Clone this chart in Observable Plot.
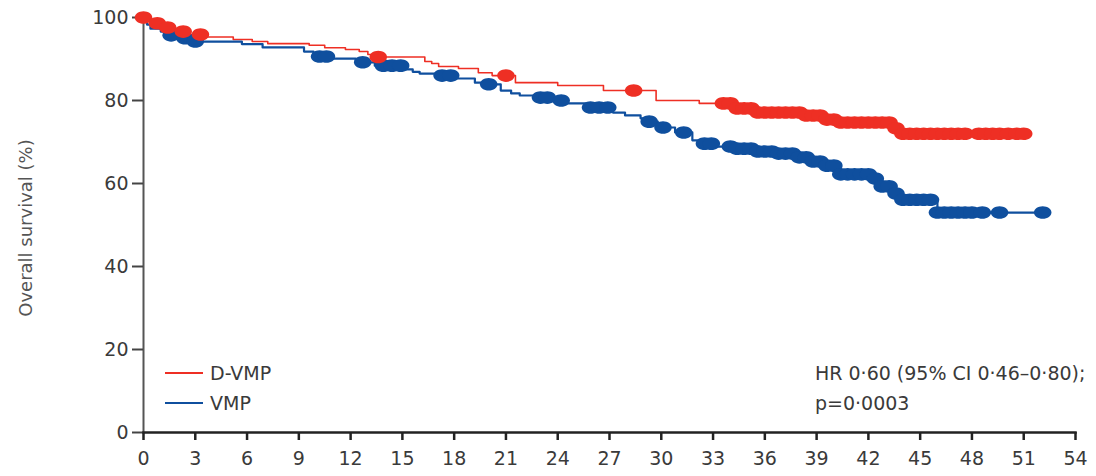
<!DOCTYPE html>
<html>
<head>
<meta charset="utf-8">
<script src="https://cdn.jsdelivr.net/npm/d3@7"></script>
<script src="https://cdn.jsdelivr.net/npm/@observablehq/plot@0.6"></script>
<style>
  html, body { margin: 0; padding: 0; background: #fff; }
  #wrap { position: relative; width: 1096px; height: 476px; font-family: "DejaVu Sans", sans-serif; color: #3a3a3a; }
  .lbl { position: absolute; font-size: 19px; line-height: 22px; white-space: nowrap; }
  .sw { position: absolute; width: 38px; height: 0; border-top: 2px solid; }
</style>
</head>
<body>
<div id="wrap"></div>
<script>
// D-VMP Kaplan-Meier steps (months, % surviving)
const dvmpTime = [0, 0.4, 1.0, 1.85, 2.7, 3.6, 5.2, 6.3, 7.2, 9.6, 10.5, 11.7, 12.5, 13.0, 13.3, 16.3, 16.7, 17.1, 18.25, 19.4, 20.2, 21.55, 24.0, 26.65, 29.7, 32.2, 34.3, 35.5, 38.2, 39.5, 40.1, 43.3, 43.9, 51.0];
const dvmpSurv = [100, 98.6, 97.6, 96.6, 95.9, 95.3, 94.7, 94.2, 93.7, 93.3, 92.7, 92.3, 91.8, 91.1, 90.5, 89.4, 88.9, 88.2, 87.7, 86.7, 86.0, 84.3, 83.6, 82.4, 80.0, 79.3, 78.1, 77.1, 76.4, 75.4, 74.7, 73.3, 72.0, 72.0];
// D-VMP censor marks
const dvmpCensT = [0, 0.8, 1.4, 2.3, 3.3, 13.6, 21.0, 28.4, 33.6, 34.0, 34.4, 34.8, 35.2, 35.6, 36.0, 36.4, 36.8, 37.2, 37.6, 38.0, 38.4, 38.8, 39.2, 39.6, 40.0, 40.4, 40.8, 41.2, 41.6, 42.0, 42.4, 42.8, 43.2, 43.6, 44.0, 44.4, 44.8, 45.2, 45.6, 46.0, 46.4, 46.8, 47.2, 47.6, 48.4, 48.8, 49.2, 49.6, 50.1, 50.6, 51.0];
const dvmpCensS = [100, 98.6, 97.6, 96.6, 95.9, 90.5, 86.0, 82.4, 79.3, 79.3, 78.1, 78.1, 78.1, 77.1, 77.1, 77.1, 77.1, 77.1, 77.1, 77.1, 76.4, 76.4, 76.4, 75.4, 75.4, 74.7, 74.7, 74.7, 74.7, 74.7, 74.7, 74.7, 74.7, 73.3, 72.0, 72.0, 72.0, 72.0, 72.0, 72.0, 72.0, 72.0, 72.0, 72.0, 72.0, 72.0, 72.0, 72.0, 72.0, 72.0, 72.0];

// VMP Kaplan-Meier steps
const vmpTime = [0, 0.2, 0.4, 1.0, 1.55, 2.3, 3.0, 5.7, 6.9, 9.3, 9.85, 11.0, 12.3, 13.4, 15.2, 15.6, 16.0, 16.9, 18.1, 19.2, 19.6, 20.7, 21.3, 21.8, 22.7, 23.6, 24.4, 25.6, 27.2, 27.9, 28.8, 29.1, 29.8, 30.8, 31.8, 32.4, 33.1, 34.3, 35.5, 36.6, 37.8, 38.6, 39.5, 40.4, 42.2, 42.8, 43.4, 44.0, 46.0, 52.1];
const vmpSurv = [100, 98.3, 97.3, 96.6, 95.7, 95.0, 94.2, 93.6, 92.8, 91.8, 90.6, 90.1, 89.2, 88.4, 87.5, 86.9, 86.5, 86.0, 85.3, 84.3, 83.9, 82.4, 81.7, 81.2, 80.7, 80.0, 79.3, 78.3, 77.1, 76.4, 75.7, 74.9, 73.5, 72.3, 70.4, 69.6, 68.9, 68.4, 67.7, 67.2, 66.3, 65.3, 64.3, 62.2, 61.2, 59.3, 57.6, 56.1, 53.0, 53.0];
// VMP censor marks
const vmpCensT = [1.6, 2.4, 3.0, 10.2, 10.6, 12.7, 13.9, 14.4, 14.9, 17.3, 17.8, 20.0, 23.0, 23.4, 24.2, 25.9, 26.4, 26.9, 29.3, 30.1, 31.3, 32.5, 32.9, 34.0, 34.4, 34.8, 35.2, 35.6, 36.0, 36.4, 36.8, 37.2, 37.6, 38.0, 38.4, 38.8, 39.2, 39.6, 40.0, 40.4, 40.8, 41.2, 41.6, 42.0, 42.4, 42.8, 43.2, 43.6, 44.0, 44.4, 44.8, 45.2, 45.6, 46.0, 46.4, 46.8, 47.2, 47.6, 48.0, 48.6, 49.6, 52.1];
const vmpCensS = [95.7, 95.0, 94.2, 90.6, 90.6, 89.2, 88.4, 88.4, 88.4, 86.0, 86.0, 83.9, 80.7, 80.7, 80.0, 78.3, 78.3, 78.3, 74.9, 73.5, 72.3, 69.6, 69.6, 68.9, 68.4, 68.4, 68.4, 67.7, 67.7, 67.7, 67.2, 67.2, 67.2, 66.3, 66.3, 65.3, 65.3, 64.3, 64.3, 62.2, 62.2, 62.2, 62.2, 62.2, 61.2, 59.3, 59.3, 57.6, 56.1, 56.1, 56.1, 56.1, 56.1, 53.0, 53.0, 53.0, 53.0, 53.0, 53.0, 53.0, 53.0, 53.0];

const xTicks = [0, 3, 6, 9, 12, 15, 18, 21, 24, 27, 30, 33, 36, 39, 42, 45, 48, 51, 54];
const yTicks = [0, 20, 40, 60, 80, 100];

const arms = ["D-VMP", "VMP"];
const armColors = ["#ee2f24", "#0f4f9e"];
const yLabel = "Overall survival (%)";
const statLines = ["HR 0·60 (95% CI 0·46–0·80);", "p=0·0003"];

const steps = [
  ...dvmpTime.map((t, i) => ({arm: arms[0], t, s: dvmpSurv[i]})),
  ...vmpTime.map((t, i) => ({arm: arms[1], t, s: vmpSurv[i]}))
];
const censors = [
  ...vmpCensT.map((t, i) => ({arm: arms[1], t, s: vmpCensS[i]})),
  ...dvmpCensT.map((t, i) => ({arm: arms[0], t, s: dvmpCensS[i]}))
];

const K = 0.5523;
const ellipse = {
  draw(ctx, size) {
    const r = Math.sqrt(size / Math.PI);
    const a = r * 1.25, b = r * 0.9;
    ctx.moveTo(a, 0);
    ctx.bezierCurveTo(a, b * K, a * K, b, 0, b);
    ctx.bezierCurveTo(-a * K, b, -a, b * K, -a, 0);
    ctx.bezierCurveTo(-a, -b * K, -a * K, -b, 0, -b);
    ctx.bezierCurveTo(a * K, -b, a, -b * K, a, 0);
    ctx.closePath();
  }
};

const chart = Plot.plot({
  width: 1096,
  height: 476,
  marginLeft: 143,
  marginRight: 21,
  marginTop: 17,
  marginBottom: 44,
  style: {fontFamily: '"DejaVu Sans", sans-serif', fontSize: "19px", color: "#3a3a3a", background: "#fff"},
  x: {domain: [0, 54]},
  y: {domain: [0, 100]},
  color: {domain: arms, range: armColors},
  marks: [
    Plot.frame({anchor: "left", stroke: "#555", strokeWidth: 2}),
    Plot.axisX({ticks: xTicks, tickSize: 8, tickPadding: 11, strokeWidth: 2.5, stroke: "#222", label: null, fill: "#3a3a3a"}),
    Plot.axisY({ticks: yTicks, tickSize: 11, tickPadding: 4, strokeWidth: 2, stroke: "#444", label: null, fill: "#3a3a3a"}),
    Plot.line(steps, {x: "t", y: "s", z: "arm", stroke: "arm", curve: "step-after", strokeWidth: d => d.arm === arms[0] ? 1.6 : 2.2}),
    Plot.frame({anchor: "bottom", stroke: "#222", strokeWidth: 2.5}),
    Plot.dot(censors, {x: "t", y: "s", fill: "arm", r: 7, symbol: ellipse, stroke: "none"})
  ]
});

const wrap = document.getElementById("wrap");
wrap.appendChild(chart);

function addLabel(text, left, cy, extra) {
  const d = document.createElement("div");
  d.className = "lbl";
  d.textContent = text;
  d.style.left = left + "px";
  d.style.top = (cy - 11) + "px";
  if (extra) Object.assign(d.style, extra);
  wrap.appendChild(d);
}
function addSwatch(color, left, cy) {
  const s = document.createElement("div");
  s.className = "sw";
  s.style.borderTopColor = color;
  s.style.left = left + "px";
  s.style.top = (cy - 1) + "px";
  wrap.appendChild(s);
}
addSwatch(armColors[0], 165, 373);
addLabel(arms[0], 210, 373);
addSwatch(armColors[1], 165, 403);
addLabel(arms[1], 210, 403);
addLabel(statLines[0], 815, 373);
addLabel(statLines[1], 815, 403);

const yl = document.createElement("div");
yl.className = "lbl";
yl.textContent = yLabel;
Object.assign(yl.style, {left: "26px", top: "228px", fontSize: "18px", transform: "translate(-50%, -50%) rotate(-90deg)", color: "#555"});
wrap.appendChild(yl);
</script>
</body>
</html>
